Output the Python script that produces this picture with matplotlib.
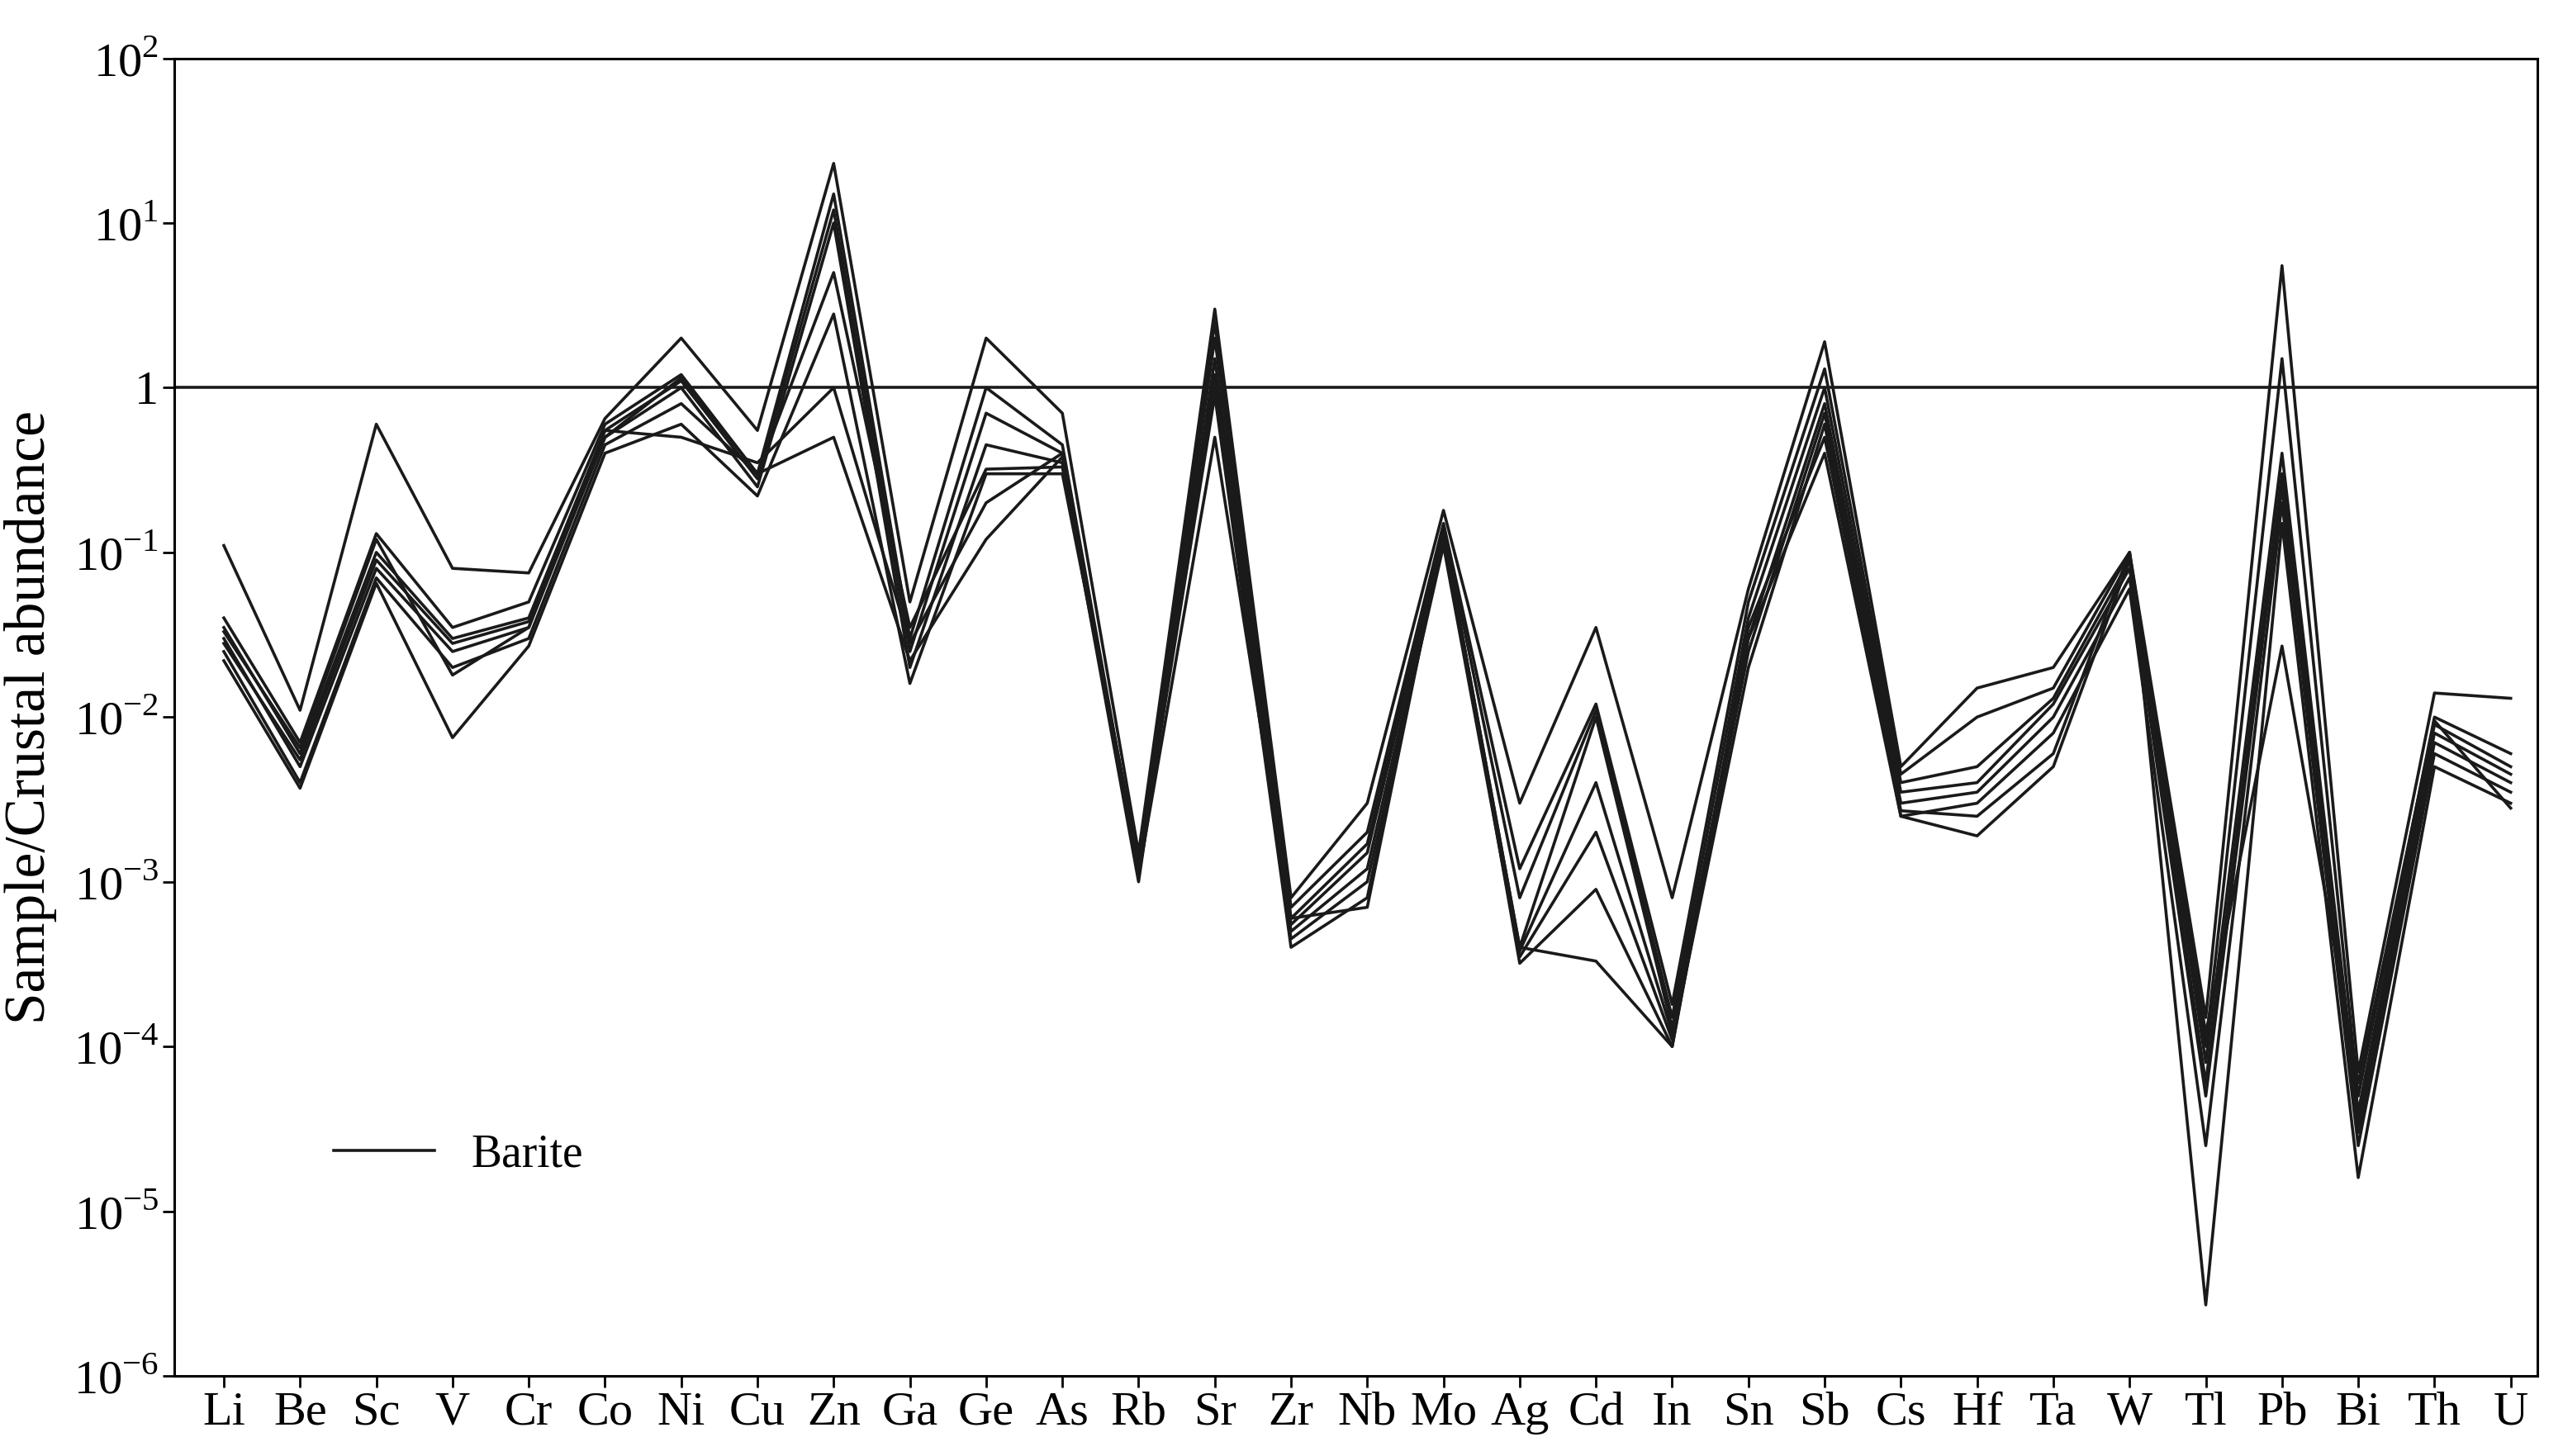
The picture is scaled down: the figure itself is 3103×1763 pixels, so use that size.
import matplotlib
matplotlib.use("Agg")
import matplotlib.pyplot as plt
from matplotlib.ticker import FixedLocator, FixedFormatter, NullLocator

plt.rcParams['font.family'] = 'Liberation Serif'
plt.rcParams['mathtext.fontset'] = 'custom'
plt.rcParams['mathtext.rm'] = 'Liberation Serif'

elements = ['Li', 'Be', 'Sc', 'V', 'Cr', 'Co', 'Ni', 'Cu', 'Zn', 'Ga', 'Ge', 'As', 'Rb', 'Sr', 'Zr', 'Nb',
            'Mo', 'Ag', 'Cd', 'In', 'Sn', 'Sb', 'Cs', 'Hf', 'Ta', 'W', 'Tl', 'Pb', 'Bi', 'Th', 'U']

# one row per element, one column per barite sample
values = [
    [0.11, 0.04, 0.035, 0.03, 0.025, 0.022, 0.033, 0.028],
    [0.011, 0.007, 0.006, 0.005, 0.004, 0.0037, 0.0065, 0.0055],
    [0.6, 0.13, 0.1, 0.08, 0.07, 0.065, 0.12, 0.09],
    [0.08, 0.035, 0.03, 0.025, 0.02, 0.0075, 0.018, 0.028],
    [0.075, 0.05, 0.04, 0.035, 0.03, 0.027, 0.035, 0.038],
    [0.65, 0.6, 0.55, 0.5, 0.45, 0.4, 0.55, 0.5],
    [2.0, 1.2, 1.1, 1.0, 0.8, 0.6, 0.5, 1.15],
    [0.55, 0.3, 0.28, 0.25, 0.3, 0.22, 0.35, 0.3],
    [23, 15, 12, 10, 5, 2.8, 1.0, 0.5],
    [0.05, 0.03, 0.025, 0.02, 0.035, 0.016, 0.028, 0.022],
    [2.0, 1.0, 0.7, 0.45, 0.32, 0.3, 0.2, 0.12],
    [0.7, 0.45, 0.4, 0.35, 0.33, 0.3, 0.4, 0.38],
    [0.0015, 0.0012, 0.0011, 0.001, 0.0013, 0.0014, 0.0012, 0.0011],
    [3.0, 2.5, 2.0, 1.5, 1.2, 1.0, 0.9, 0.5],
    [0.0008, 0.0007, 0.0006, 0.00055, 0.0005, 0.00045, 0.0004, 0.0006],
    [0.003, 0.002, 0.0017, 0.0015, 0.0012, 0.001, 0.0008, 0.0007],
    [0.18, 0.15, 0.14, 0.13, 0.12, 0.11, 0.14, 0.13],
    [0.003, 0.0012, 0.0008, 0.0004, 0.00038, 0.00035, 0.00032, 0.0004],
    [0.035, 0.012, 0.011, 0.01, 0.004, 0.002, 0.0009, 0.00033],
    [0.0008, 0.00018, 0.00015, 0.00013, 0.00012, 0.00011, 0.0001, 0.0001],
    [0.06, 0.05, 0.04, 0.03, 0.025, 0.02, 0.035, 0.03],
    [1.9, 1.3, 1.0, 0.8, 0.7, 0.6, 0.5, 0.4],
    [0.005, 0.0045, 0.004, 0.0035, 0.003, 0.0025, 0.0027, 0.0025],
    [0.015, 0.01, 0.005, 0.004, 0.0035, 0.003, 0.0025, 0.0019],
    [0.02, 0.015, 0.013, 0.012, 0.01, 0.008, 0.006, 0.005],
    [0.1, 0.1, 0.09, 0.08, 0.07, 0.06, 0.1, 0.09],
    [0.00015, 0.0001, 0.00008, 0.00006, 0.00005, 0.000025, 0.0000027, 0.00012],
    [5.5, 1.5, 0.4, 0.3, 0.25, 0.2, 0.15, 0.027],
    [0.00007, 0.00005, 0.00004, 0.000035, 0.00003, 0.000025, 0.000016, 0.00006],
    [0.014, 0.01, 0.009, 0.008, 0.007, 0.006, 0.005, 0.0095],
    [0.013, 0.006, 0.005, 0.0045, 0.004, 0.0035, 0.003, 0.0028],
]

ytick_vals = [1e-6, 1e-5, 1e-4, 1e-3, 1e-2, 1e-1, 1, 1e1, 1e2]
ytick_labels = ['$10^{-6}$', '$10^{-5}$', '$10^{-4}$', '$10^{-3}$', '$10^{-2}$', '$10^{-1}$', '1',
                '$10^{1}$', '$10^{2}$']

fig = plt.figure(figsize=(31.03, 17.63), dpi=100)
ax = fig.add_axes([0.068, 0.055, 0.922, 0.905])

x = list(range(len(elements)))
n_samples = len(values[0])
for s in range(n_samples):
    ys = [row[s] for row in values]
    ax.plot(x, ys, color='#1a1a1a', lw=2.6, label='Barite' if s == 0 else None)

ax.axhline(1, color='#1a1a1a', lw=2.6)

ax.set_yscale('log')
ax.set_ylim(1e-6, 1e2)
ax.set_xlim(-0.65, len(elements) - 0.65)
ax.yaxis.set_major_locator(FixedLocator(ytick_vals))
ax.yaxis.set_major_formatter(FixedFormatter(ytick_labels))
ax.yaxis.set_minor_locator(NullLocator())
ax.set_xticks(x)
ax.set_xticklabels(elements)
ax.tick_params(labelsize=42, width=2, length=10)
ax.set_ylabel('Sample/Crustal abundance', fontsize=50, labelpad=14)
for sp in ax.spines.values():
    sp.set_linewidth(2.2)

ax.legend(loc='lower left', bbox_to_anchor=(0.05, 0.12), frameon=False, fontsize=40,
          handlelength=2.2)

fig.savefig('out.png', dpi=100)
